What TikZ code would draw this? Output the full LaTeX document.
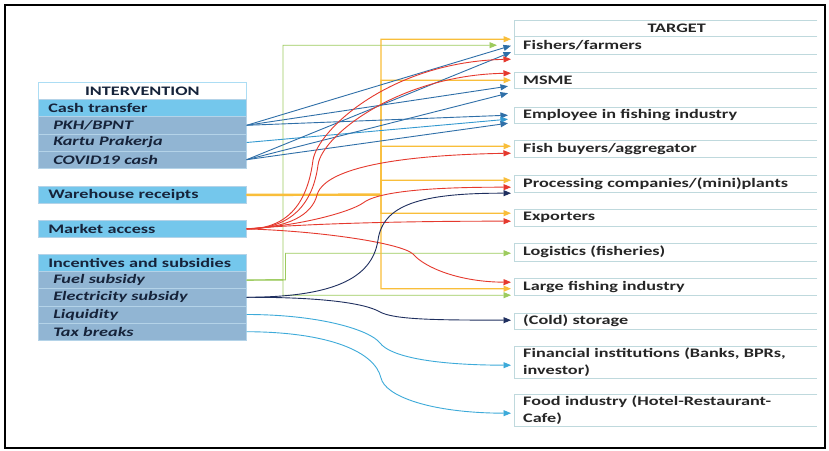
\documentclass[tikz,border=0pt]{standalone}
\usepackage{fontspec}
\setmainfont{Carlito}[FakeStretch=1.40]
\usetikzlibrary{arrows.meta,calc}

\definecolor{catblue}{HTML}{74C7EC}
\definecolor{subblue}{HTML}{91B5D3}
\definecolor{rowline}{HTML}{B4D3E8}
\definecolor{tgtline}{HTML}{BFD9DD}
\definecolor{cgreen}{HTML}{9DCB5E}
\definecolor{cyellow}{HTML}{F9BE3A}
\definecolor{cred}{HTML}{E5392E}
\definecolor{cblue}{HTML}{2F6FA8}
\definecolor{clblue}{HTML}{3399D0}
\definecolor{cnavy}{HTML}{1F2F5F}
\definecolor{ccyan}{HTML}{3DAAD9}
\definecolor{ltext}{HTML}{16233A}
\definecolor{rtext}{HTML}{262626}

\begin{document}
\begin{tikzpicture}[x=1pt,y=-1pt,
  every node/.style={font=\bfseries\fontsize{13}{17.5}\selectfont},
  row/.style={anchor=north west, draw=rowline, line width=0.6pt,
    minimum height=17.2pt, inner ysep=0pt, text=ltext, align=left},
  hdr/.style={row, fill=white, draw=catblue!60, inner xsep=0pt,
    text width=208pt, align=center},
  cat/.style={row, fill=catblue, inner xsep=10pt, text width=188pt},
  sub/.style={row, fill=subblue, inner xsep=15pt, text width=178pt,
    font=\bfseries\itshape\fontsize{13}{17.5}\selectfont},
  tgt/.style={anchor=north west, minimum height=17pt, inner xsep=9pt,
    inner ysep=0pt, text width=285pt, align=left, text=rtext},
  link/.style={line width=0.9pt, -{Triangle[length=7.5pt,width=6pt]}},
]
% canvas and frame
\fill[white] (0,0) rectangle (829,450);
\useasboundingbox (0,0) rectangle (829,450);
\draw[line width=2.2pt] (5,5) rectangle (825,448);

% intervention column
\node[hdr] (ihead) at (38,82) {INTERVENTION};
\node[cat] (cash) at (38,99.2) {Cash transfer};
\node[sub] (pkh) at (38,116.4) {PKH/BPNT};
\node[sub] (kartu) at (38,133.6) {Kartu Prakerja};
\node[sub] (covid) at (38,150.8) {COVID19 cash};
\node[cat] (wh) at (38,186) {Warehouse receipts};
\node[cat] (mkt) at (38,220) {Market access};
\node[cat] (inc) at (38,254) {\mbox{Incentives and subsidies}};
\node[sub] (fuel) at (38,271.2) {Fuel subsidy};
\node[sub] (elec) at (38,288.4) {Electricity subsidy};
\node[sub] (liq) at (38,305.6) {Liquidity};
\node[sub] (tax) at (38,322.8) {Tax breaks};

% target column
\node[tgt, align=center, minimum height=16pt] (tg) at (514,20) {\hspace*{22pt}TARGET};
\node[tgt, minimum height=18pt] (fish) at (514,36) {Fishers/farmers};
\node[tgt, minimum height=16pt] (msme) at (514,72) {MSME};
\node[tgt, minimum height=16pt] (emp) at (514,107) {Employee in fishing industry};
\node[tgt] (buy) at (514,140) {Fish buyers/aggregator};
\node[tgt] (proc) at (514,175) {Processing companies/(mini)plants};
\node[tgt] (exp) at (514,209) {Exporters};
\node[tgt, minimum height=18pt] (logi) at (514,243) {Logistics (fisheries)};
\node[tgt] (large) at (514,278) {Large fishing industry};
\node[tgt, minimum height=16pt] (cold) at (514,313) {(Cold) storage};
\node[tgt, minimum height=32pt] (fin) at (514,346) {Financial institutions (Banks, BPRs,\\investor)};
\node[tgt, minimum height=32pt] (food) at (514,394) {Food industry (Hotel-Restaurant-\\Cafe)};
\foreach \n in {tg,fish,msme,emp,buy,proc,exp,logi,large,cold,fin,food}
  \draw[tgtline, line width=0.8pt] (\n.north east) -- (\n.north west) -- (\n.south west) -- (\n.south east);

% bus points for the elbow connectors
\coordinate (gb1) at (283,279.8);
\coordinate (gb2) at (285.5,279.8);
\coordinate (yb) at (381,194.6);

% fuel subsidy (green elbows)
\draw[link,cgreen] (fuel.east) -- (gb1) |- ($(fish.west)+(-17,0)$);
\draw[link,cgreen] (fuel.east) -- (gb2) |- ($(logi.west)+(-3,1)$);
\draw[link,cgreen] (fuel.east) -- (gb1) |- ($(large.west)+(-3,8.5)$);

% warehouse receipts (yellow elbows)
\draw[cyellow, line width=2.4pt] (wh.east) -- (yb);
\foreach \n/\dy in {fish/-6, msme/0, buy/-2.5, proc/-3.5, exp/-4.5, large/2}
  \draw[link,cyellow,line width=1.1pt] (wh.east) -- (yb) |- ($(\n.west)+(-3,\dy)$);

% cash transfer (straight blue)
\draw[link,cblue] (pkh.east) -- ($(fish.west)+(-3,0.5)$);
\draw[link,cblue] (pkh.east) -- ($(msme.west)+(-6,6)$);
\draw[link,cblue] (pkh.east) -- ($(emp.west)+(-6,0)$);
\draw[link,clblue] (kartu.east) -- ($(emp.west)+(-6,4)$);
\draw[link,cblue] (covid.east) -- ($(fish.west)+(-3,7)$);
\draw[link,cblue] (covid.east) -- ($(msme.west)+(-6,13)$);
\draw[link,cblue] (covid.east) -- ($(emp.west)+(-6,8)$);

% market access (red curves)
\draw[link,cred] (mkt.east) .. controls (290,229) and (308,200) .. (313,160)
  .. controls (318,130) and (390,62) .. ($(fish.west)+(-3,14)$);
\draw[link,cred] (mkt.east) .. controls (292,229) and (313,203) .. (318,165)
  .. controls (322,135) and (400,75) .. ($(msme.west)+(-3,-7)$);
\draw[link,cred] (mkt.east) .. controls (288,228) and (312,215) .. (317,195)
  .. controls (321,180) and (350,156) .. ($(buy.west)+(-3,4.5)$);
\draw[link,cred] (mkt.east) .. controls (300,226) and (350,212) .. (363,203)
  .. controls (372,196) and (400,187) .. ($(proc.west)+(-3,3.5)$);
\draw[link,cred] (mkt.east) .. controls (300,224) and (400,221) .. ($(exp.west)+(-3,3.5)$);
\draw[link,cred] (mkt.east) .. controls (320,231) and (401,243) .. (413,254)
  .. controls (425,268) and (460,282) .. ($(large.west)+(-3,-4.5)$);

% electricity subsidy (navy curves)
\draw[link,cnavy] (elec.east) .. controls (330,297) and (372,280) .. (378,240)
  .. controls (383,205) and (420,193) .. ($(proc.west)+(-3,9.5)$);
\draw[link,cnavy] (elec.east) .. controls (320,297) and (365,303) .. (380,312)
  .. controls (395,320) and (440,320) .. ($(cold.west)+(-3,-1)$);

% liquidity and tax breaks (cyan curves)
\draw[link,ccyan] (liq.east) .. controls (320,314.5) and (370,330) .. (380,343)
  .. controls (390,356) and (430,365) .. ($(fin.west)+(-3,3)$);
\draw[link,ccyan] (tax.east) .. controls (330,332) and (375,352) .. (381,378)
  .. controls (385,396) and (430,413) .. ($(food.west)+(-3,3)$);
\end{tikzpicture}
\end{document}
